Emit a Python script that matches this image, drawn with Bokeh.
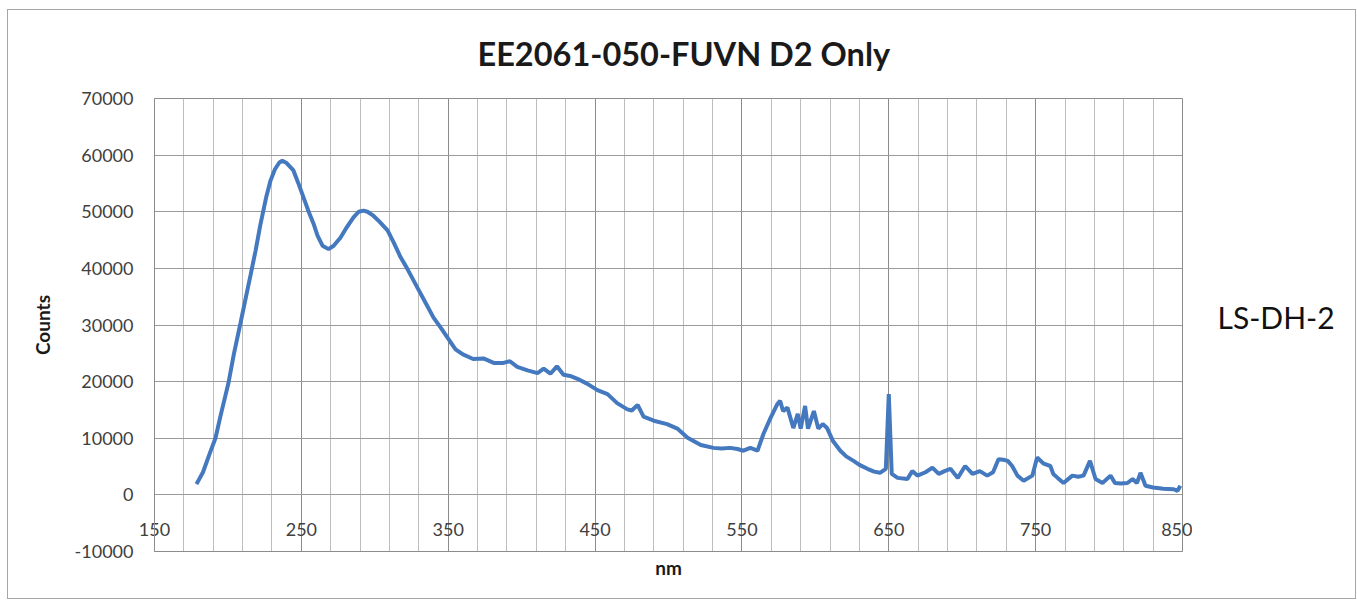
from bokeh.plotting import figure
from bokeh.layouts import row
from bokeh.models import FixedTicker, Title, Label, Range1d, NumeralTickFormatter
from bokeh.embed import file_html
from bokeh.resources import INLINE

title_text = "EE2061-050-FUVN D2 Only"
x_label = "nm"
y_label = "Counts"
side_note = "LS-DH-2"

x_ticks = [150, 250, 350, 450, 550, 650, 750, 850]
x_minor = list(range(150, 851, 20))
y_ticks = [-10000, 0, 10000, 20000, 30000, 40000, 50000, 60000, 70000]

wavelength_nm = [
    178.6, 183, 188, 191.5, 195, 200.4, 204, 208.6, 212, 215.4, 218.8, 222, 226, 229, 232, 235, 237, 240,
    244.6, 248, 251.5, 255, 258.3, 261, 264.4, 268.5, 272, 276.6, 281, 285.5, 289, 292.3, 295, 299, 303,
    308.7, 313, 317.5, 322, 329, 334, 340, 345, 351.5, 355, 360, 367, 374, 381, 387.6, 392, 397, 404,
    410.8, 415, 419.6, 424, 428.5, 433, 438, 444.8, 451.6, 458.5, 465, 472, 475, 479, 483, 490, 499, 506,
    513, 522, 530.6, 536, 542, 547, 551, 555.7, 560.6, 564.7, 569.5, 574, 576, 578, 581, 583, 585, 588,
    590, 593, 595, 599, 602, 605, 608, 612, 617, 621, 626, 630, 635.5, 640, 644, 648, 650, 652, 656,
    662.7, 666, 669.5, 675, 679.7, 684, 688, 692, 697, 702, 707, 712, 717, 721, 724.7, 728, 731, 734,
    737.6, 741.8, 747.8, 751, 755.5, 760, 762, 765, 769, 775, 779, 782.6, 787, 790.8, 795.5, 801, 804,
    808, 812.5, 816, 819, 821.4, 824.8, 830, 837, 844, 846.6, 848.5,
]
counts = [
    1900, 4000, 7600, 10000, 14000, 19800, 24800, 30400, 34600, 38800, 43100, 47600, 52500, 55500, 57500,
    58700, 59000, 58600, 57300, 55000, 52500, 50000, 47900, 45800, 44000, 43400, 44000, 45400, 47300,
    49000, 50000, 50200, 50000, 49300, 48300, 46700, 44500, 42000, 40000, 36600, 34200, 31300, 29500,
    27000, 25700, 24800, 24000, 24100, 23300, 23300, 23600, 22600, 22000, 21500, 22300, 21400, 22700,
    21200, 21000, 20500, 19600, 18500, 17800, 16200, 15100, 14900, 15900, 13800, 13100, 12500, 11700,
    10100, 8800, 8300, 8200, 8300, 8100, 7800, 8300, 7800, 10800, 13600, 16000, 16600, 14800, 15400,
    13600, 11800, 14300, 11700, 15700, 11700, 14800, 11700, 12500, 11800, 9500, 7800, 6800, 6000, 5300,
    4600, 4100, 3900, 4600, 17800, 3700, 3000, 2800, 4200, 3400, 4000, 4800, 3700, 4200, 4600, 3000,
    5100, 3700, 4200, 3400, 4000, 6300, 6200, 6000, 5100, 3400, 2500, 3400, 6600, 5500, 5100, 3700,
    3000, 2100, 3400, 3200, 3400, 6000, 2800, 2100, 3400, 2100, 2000, 2100, 2800, 2100, 3900, 1600,
    1300, 1100, 1000, 700, 1600,
]

FONT = "Lato"
TXT = "#404040"
H = 588

p = figure(
    width=1184, height=H, output_backend="svg", toolbar_location=None,
    x_range=Range1d(150, 850), y_range=Range1d(-10000, 70000),
    min_border_left=146, min_border_right=10, min_border_top=88, min_border_bottom=47,
    outline_line_color="#8c8c8c",
)

p.title.text = title_text
p.title.text_font = FONT
p.title.text_font_size = "32.5px"
p.title.text_font_style = "bold"
p.title.text_color = "#1a1a1a"
p.title.align = "left"
p.title.offset = 323
p.title.vertical_align = "top"
p.title.standoff = 47

xa = p.xaxis[0]
xa.ticker = FixedTicker(ticks=x_ticks, minor_ticks=x_minor)
xa.major_label_text_font = FONT
xa.major_label_text_font_size = "18px"
xa.major_label_text_color = TXT
xa.major_label_standoff = -29
xa.axis_line_color = "#8c8c8c"
xa.major_tick_in = 0
xa.major_tick_out = 0
xa.minor_tick_in = 0
xa.minor_tick_out = 0

ya = p.yaxis[0]
ya.ticker = FixedTicker(ticks=y_ticks)
ya.formatter = NumeralTickFormatter(format="0")
ya.major_label_text_font = FONT
ya.major_label_text_font_size = "18px"
ya.major_label_text_color = TXT
ya.major_label_standoff = 21
ya.axis_line_color = "#8c8c8c"
ya.major_tick_in = 0
ya.major_tick_out = 0
ya.minor_tick_in = 0
ya.minor_tick_out = 0
ya.axis_label = y_label
ya.axis_label_text_font = FONT
ya.axis_label_text_font_size = "19px"
ya.axis_label_text_font_style = "bold"
ya.axis_label_text_color = "#1a1a1a"
ya.axis_label_standoff = 18

p.xgrid.grid_line_color = "#8c8c8c"
p.xgrid.minor_grid_line_color = "#bdbdbd"
p.ygrid.grid_line_color = "#9a9a9a"

p.add_layout(Title(text=x_label, align="center", text_font=FONT, text_font_size="19px",
                   text_font_style="bold", text_color="#1a1a1a", standoff=4), "below")

p.line(wavelength_nm, counts, line_color="#4478bf", line_width=4)

p2 = figure(width=163, height=H, output_backend="svg", toolbar_location=None,
            x_axis_location=None, y_axis_location=None, min_border=0,
            outline_line_color=None)
p2.grid.visible = False
p2.add_layout(Label(x=25, y=235, x_units="screen", y_units="screen", text=side_note,
                    text_font=FONT, text_font_size="30px", text_color="#111111",
                    text_baseline="middle", text_align="left"))

layout = row(p, p2, styles={"border": "1px solid #a6a6a6", "margin-left": "7px", "margin-top": "9px"})

open("out.html", "w").write(file_html(layout, INLINE))
